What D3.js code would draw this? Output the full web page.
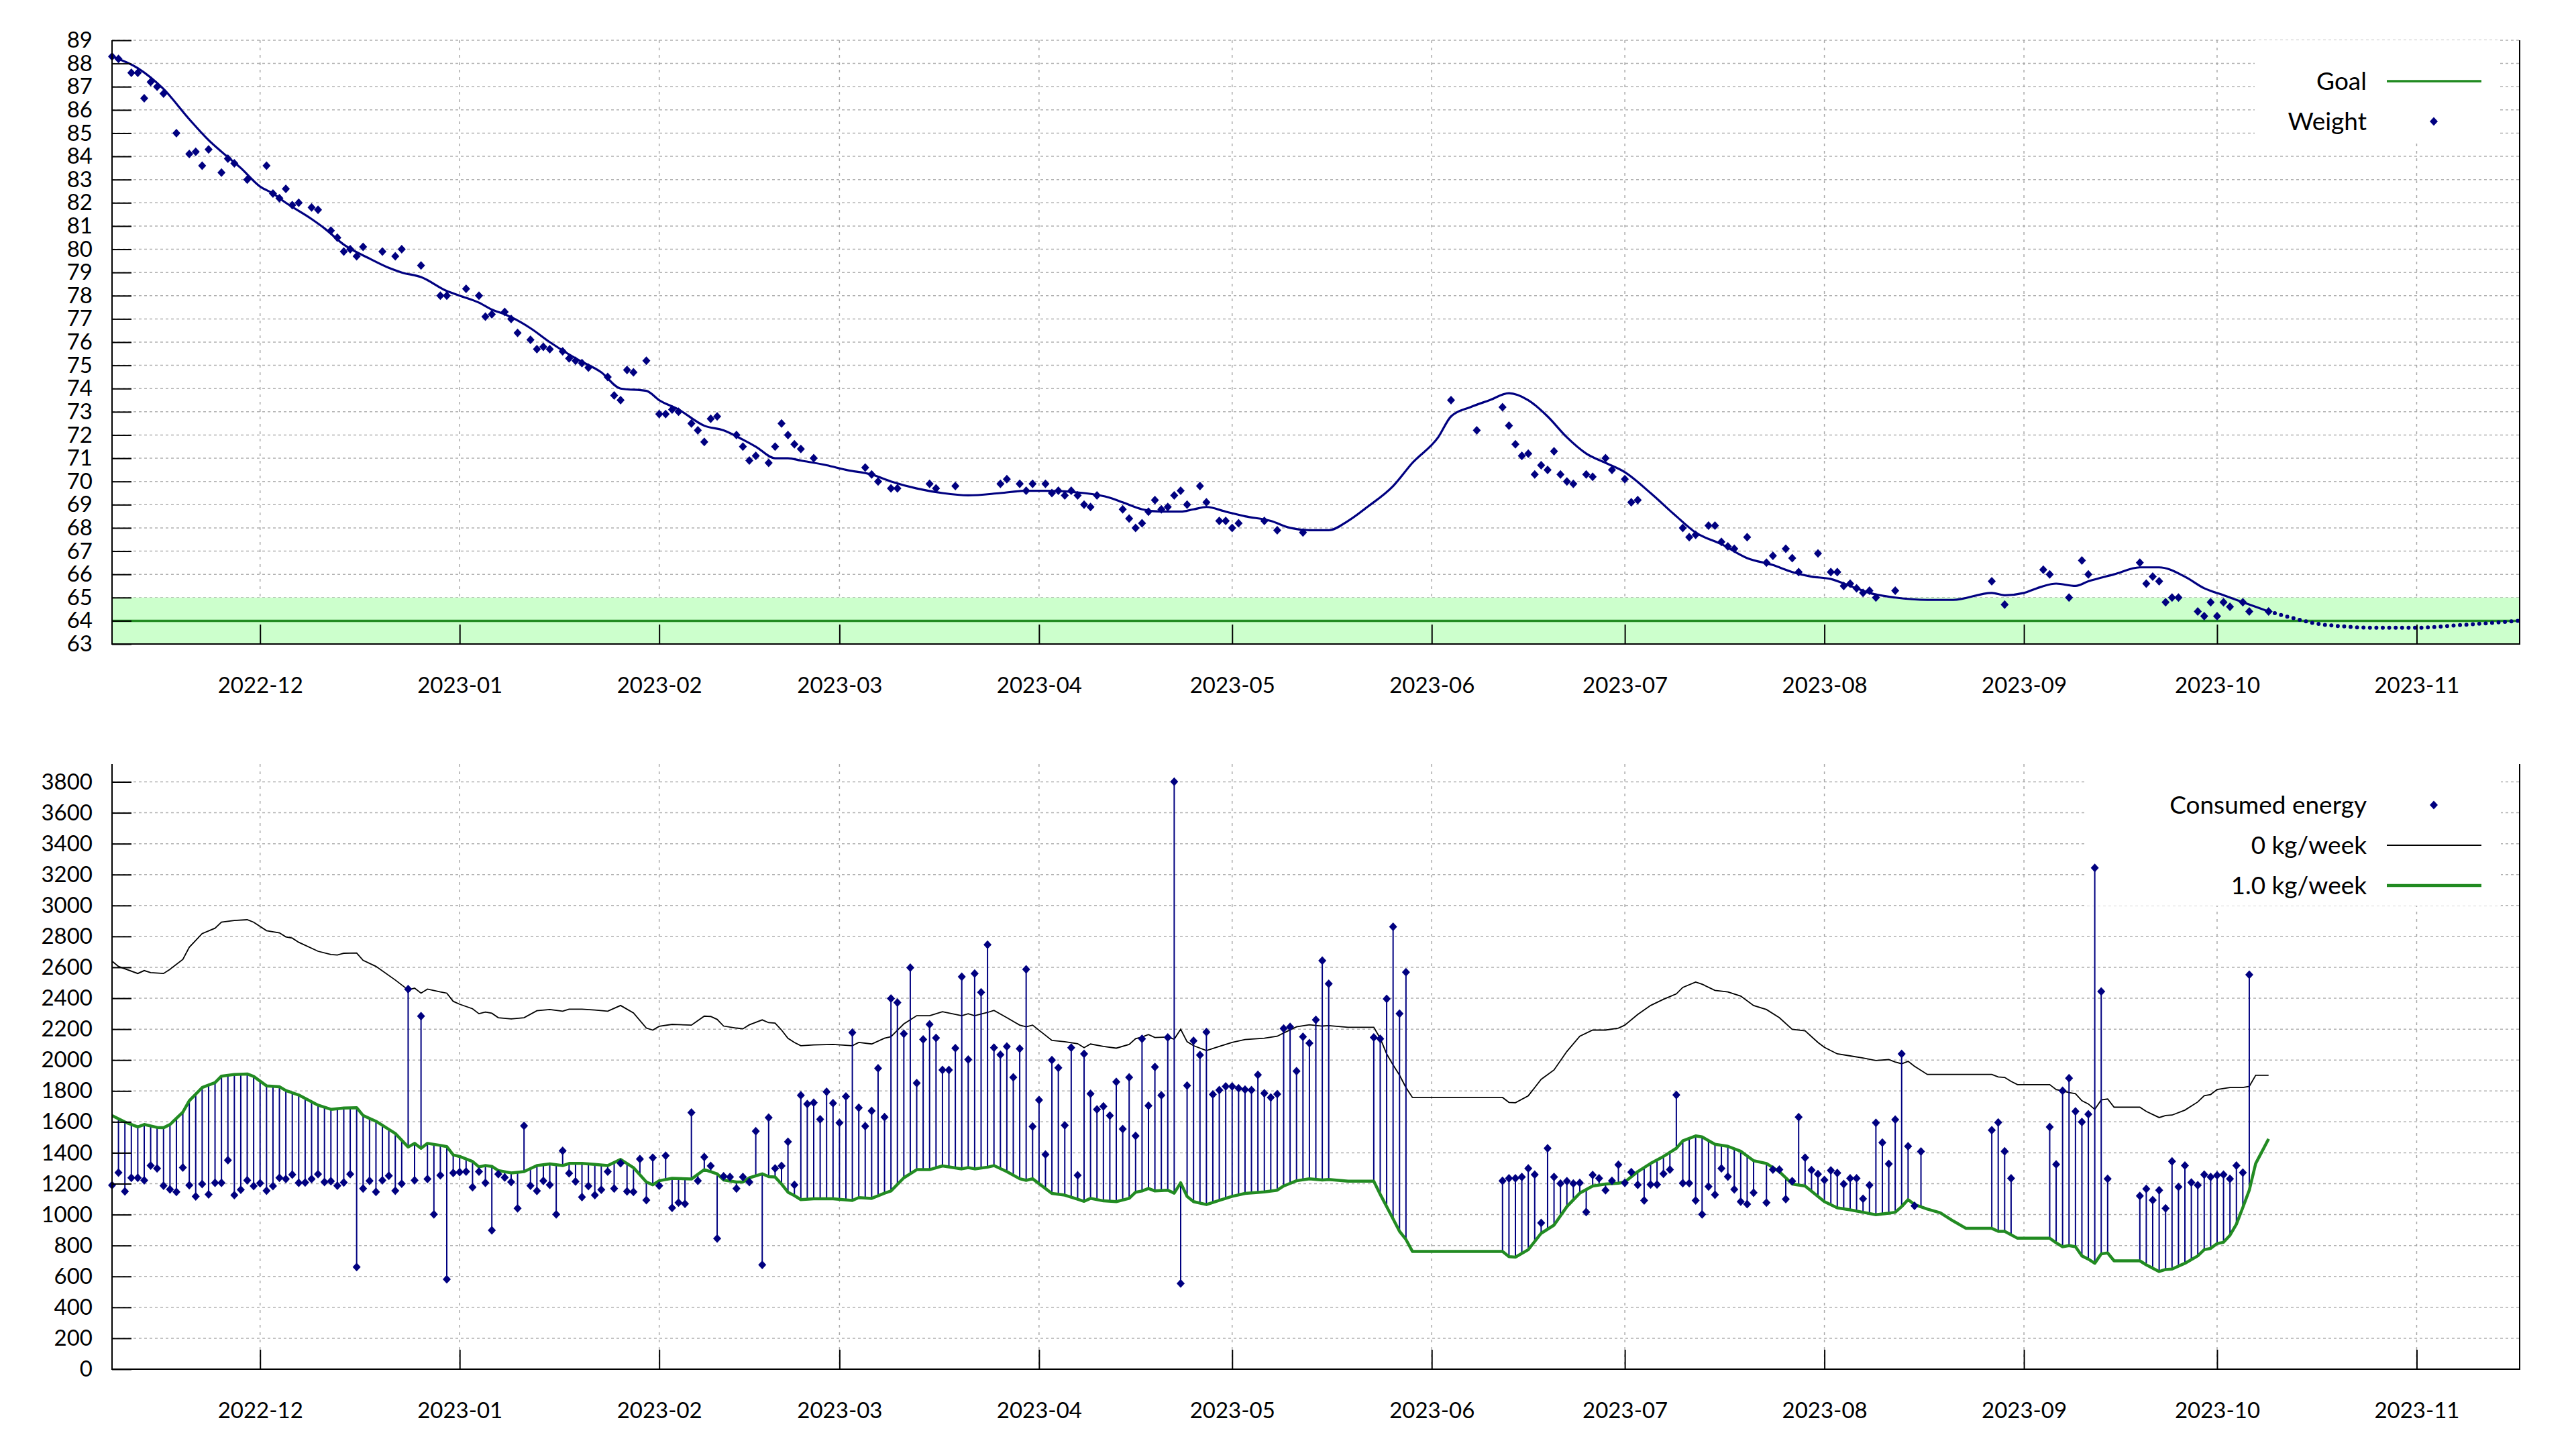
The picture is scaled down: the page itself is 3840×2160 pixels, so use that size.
<!DOCTYPE html>
<html>
<head>
<meta charset="utf-8">
<script src="https://cdn.jsdelivr.net/npm/d3@7"></script>
<style>
  html, body { margin: 0; padding: 0; background: #fff; }
  svg { display: block; font-family: Lato, 'Open Sans', sans-serif; }
</style>
</head>
<body>
<svg id="chart" width="3840" height="2160"></svg>
<script>
// ---- data ----
const xStart = '2022-11-08';
const xEnd = '2023-11-17';
const monthTicks = ['2022-12-01', '2023-01-01', '2023-02-01', '2023-03-01', '2023-04-01', '2023-05-01',
  '2023-06-01', '2023-07-01', '2023-08-01', '2023-09-01', '2023-10-01', '2023-11-01'];
const weightTicks = d3.range(63, 90);
const energyTicks = d3.range(0, 3801, 200);

const goalWeight = 64;
const goalBand = [63, 65];

const weights = [
  ['2022-11-08', 88.3], ['2022-11-09', 88.2], ['2022-11-11', 87.6], ['2022-11-12', 87.6], ['2022-11-13', 86.5],
  ['2022-11-14', 87.2], ['2022-11-15', 87.0], ['2022-11-16', 86.7], ['2022-11-18', 85.0], ['2022-11-20', 84.1],
  ['2022-11-21', 84.2], ['2022-11-22', 83.6], ['2022-11-23', 84.3], ['2022-11-25', 83.3], ['2022-11-26', 83.9],
  ['2022-11-27', 83.7], ['2022-11-29', 83.0], ['2022-12-02', 83.6], ['2022-12-03', 82.4], ['2022-12-04', 82.2],
  ['2022-12-05', 82.6], ['2022-12-06', 81.9], ['2022-12-07', 82.0], ['2022-12-09', 81.8], ['2022-12-10', 81.7],
  ['2022-12-12', 80.8], ['2022-12-13', 80.5], ['2022-12-14', 79.9], ['2022-12-15', 80.0], ['2022-12-16', 79.7],
  ['2022-12-17', 80.1], ['2022-12-20', 79.9], ['2022-12-22', 79.7], ['2022-12-23', 80.0], ['2022-12-26', 79.3],
  ['2022-12-29', 78.0], ['2022-12-30', 78.0], ['2023-01-02', 78.3], ['2023-01-04', 78.0], ['2023-01-05', 77.1],
  ['2023-01-06', 77.2], ['2023-01-08', 77.3], ['2023-01-09', 77.0], ['2023-01-10', 76.4], ['2023-01-12', 76.1],
  ['2023-01-13', 75.7], ['2023-01-14', 75.8], ['2023-01-15', 75.7], ['2023-01-17', 75.6], ['2023-01-18', 75.3],
  ['2023-01-19', 75.2], ['2023-01-20', 75.1], ['2023-01-21', 74.9], ['2023-01-24', 74.5], ['2023-01-25', 73.7],
  ['2023-01-26', 73.5], ['2023-01-27', 74.8], ['2023-01-28', 74.7], ['2023-01-30', 75.2], ['2023-02-01', 72.9],
  ['2023-02-02', 72.9], ['2023-02-03', 73.1], ['2023-02-04', 73.0], ['2023-02-06', 72.5], ['2023-02-07', 72.2],
  ['2023-02-08', 71.7], ['2023-02-09', 72.7], ['2023-02-10', 72.8], ['2023-02-13', 72.0], ['2023-02-14', 71.5],
  ['2023-02-15', 70.9], ['2023-02-16', 71.1], ['2023-02-18', 70.8], ['2023-02-19', 71.5], ['2023-02-20', 72.5],
  ['2023-02-21', 72.0], ['2023-02-22', 71.6], ['2023-02-23', 71.4], ['2023-02-25', 71.0], ['2023-03-05', 70.6],
  ['2023-03-06', 70.3], ['2023-03-07', 70.0], ['2023-03-09', 69.7], ['2023-03-10', 69.7], ['2023-03-15', 69.9],
  ['2023-03-16', 69.7], ['2023-03-19', 69.8], ['2023-03-26', 69.9], ['2023-03-27', 70.1], ['2023-03-29', 69.9],
  ['2023-03-30', 69.6], ['2023-03-31', 69.9], ['2023-04-02', 69.9], ['2023-04-03', 69.5], ['2023-04-04', 69.6],
  ['2023-04-05', 69.4], ['2023-04-06', 69.6], ['2023-04-07', 69.4], ['2023-04-08', 69.0], ['2023-04-09', 68.9],
  ['2023-04-10', 69.4], ['2023-04-14', 68.8], ['2023-04-15', 68.4], ['2023-04-16', 68.0], ['2023-04-17', 68.2],
  ['2023-04-18', 68.7], ['2023-04-19', 69.2], ['2023-04-20', 68.8], ['2023-04-21', 68.9], ['2023-04-22', 69.4],
  ['2023-04-23', 69.6], ['2023-04-24', 69.0], ['2023-04-26', 69.8], ['2023-04-27', 69.1], ['2023-04-29', 68.3],
  ['2023-04-30', 68.3], ['2023-05-01', 68.0], ['2023-05-02', 68.2], ['2023-05-06', 68.3], ['2023-05-08', 67.9],
  ['2023-05-12', 67.8], ['2023-06-04', 73.5], ['2023-06-08', 72.2], ['2023-06-12', 73.2], ['2023-06-13', 72.4],
  ['2023-06-14', 71.6], ['2023-06-15', 71.1], ['2023-06-16', 71.2], ['2023-06-17', 70.3], ['2023-06-18', 70.7],
  ['2023-06-19', 70.5], ['2023-06-20', 71.3], ['2023-06-21', 70.3], ['2023-06-22', 70.0], ['2023-06-23', 69.9],
  ['2023-06-25', 70.3], ['2023-06-26', 70.2], ['2023-06-28', 71.0], ['2023-06-29', 70.5], ['2023-07-01', 70.1],
  ['2023-07-02', 69.1], ['2023-07-03', 69.2], ['2023-07-10', 68.0], ['2023-07-11', 67.6], ['2023-07-12', 67.7],
  ['2023-07-14', 68.1], ['2023-07-15', 68.1], ['2023-07-16', 67.4], ['2023-07-17', 67.2], ['2023-07-18', 67.1],
  ['2023-07-20', 67.6], ['2023-07-23', 66.5], ['2023-07-24', 66.8], ['2023-07-26', 67.1], ['2023-07-27', 66.7],
  ['2023-07-28', 66.1], ['2023-07-31', 66.9], ['2023-08-02', 66.1], ['2023-08-03', 66.1], ['2023-08-04', 65.5],
  ['2023-08-05', 65.6], ['2023-08-06', 65.4], ['2023-08-07', 65.2], ['2023-08-08', 65.3], ['2023-08-09', 65.0],
  ['2023-08-12', 65.3], ['2023-08-27', 65.7], ['2023-08-29', 64.7], ['2023-09-04', 66.2], ['2023-09-05', 66.0],
  ['2023-09-08', 65.0], ['2023-09-10', 66.6], ['2023-09-11', 66.0], ['2023-09-19', 66.5], ['2023-09-20', 65.6],
  ['2023-09-21', 65.9], ['2023-09-22', 65.7], ['2023-09-23', 64.8], ['2023-09-24', 65.0], ['2023-09-25', 65.0],
  ['2023-09-28', 64.4], ['2023-09-29', 64.2], ['2023-09-30', 64.8], ['2023-10-01', 64.2], ['2023-10-02', 64.8],
  ['2023-10-03', 64.6], ['2023-10-05', 64.8], ['2023-10-06', 64.4], ['2023-10-09', 64.4]
];

const weightTrend = [
  ['2022-11-08', 88.3], ['2022-11-12', 87.8], ['2022-11-16', 86.9], ['2022-11-20', 85.6], ['2022-11-23', 84.7],
  ['2022-11-25', 84.2], ['2022-11-28', 83.5], ['2022-12-01', 82.7], ['2022-12-03', 82.4], ['2022-12-05', 82.0],
  ['2022-12-09', 81.3], ['2022-12-11', 80.9], ['2022-12-14', 80.2], ['2022-12-18', 79.6], ['2022-12-21', 79.2],
  ['2022-12-23', 79.0], ['2022-12-26', 78.8], ['2022-12-30', 78.2], ['2023-01-01', 78.0], ['2023-01-04', 77.7],
  ['2023-01-06', 77.4], ['2023-01-08', 77.2], ['2023-01-12', 76.6], ['2023-01-15', 76.0], ['2023-01-19', 75.3],
  ['2023-01-23', 74.7], ['2023-01-26', 74.0], ['2023-01-30', 73.9], ['2023-02-01', 73.5], ['2023-02-04', 73.1],
  ['2023-02-08', 72.4], ['2023-02-11', 72.2], ['2023-02-14', 71.8], ['2023-02-16', 71.5], ['2023-02-19', 71.0],
  ['2023-02-21', 71.0], ['2023-02-23', 70.9], ['2023-02-27', 70.7], ['2023-03-02', 70.5], ['2023-03-06', 70.3],
  ['2023-03-09', 70.0], ['2023-03-13', 69.7], ['2023-03-17', 69.5], ['2023-03-21', 69.4], ['2023-03-26', 69.5],
  ['2023-03-30', 69.6], ['2023-04-02', 69.6], ['2023-04-08', 69.5], ['2023-04-12', 69.3], ['2023-04-14', 69.1],
  ['2023-04-17', 68.8], ['2023-04-20', 68.7], ['2023-04-23', 68.7], ['2023-04-25', 68.8], ['2023-04-27', 68.9],
  ['2023-04-30', 68.7], ['2023-05-03', 68.5], ['2023-05-07', 68.3], ['2023-05-10', 68.0], ['2023-05-13', 67.9],
  ['2023-05-16', 67.9], ['2023-05-19', 68.3], ['2023-05-22', 68.9], ['2023-05-26', 69.8], ['2023-05-29', 70.8],
  ['2023-06-02', 71.9], ['2023-06-04', 72.8], ['2023-06-07', 73.2], ['2023-06-10', 73.5], ['2023-06-13', 73.8],
  ['2023-06-16', 73.5], ['2023-06-19', 72.8], ['2023-06-22', 71.9], ['2023-06-25', 71.2], ['2023-06-28', 70.8],
  ['2023-07-01', 70.4], ['2023-07-05', 69.5], ['2023-07-09', 68.5], ['2023-07-12', 67.8], ['2023-07-16', 67.3],
  ['2023-07-20', 66.7], ['2023-07-24', 66.4], ['2023-07-27', 66.1], ['2023-07-30', 65.9], ['2023-08-02', 65.8],
  ['2023-08-05', 65.5], ['2023-08-08', 65.2], ['2023-08-12', 65.0], ['2023-08-17', 64.9], ['2023-08-21', 64.9],
  ['2023-08-27', 65.2], ['2023-08-29', 65.1], ['2023-09-01', 65.2], ['2023-09-03', 65.4], ['2023-09-06', 65.6],
  ['2023-09-09', 65.5], ['2023-09-11', 65.7], ['2023-09-15', 66.0], ['2023-09-19', 66.3], ['2023-09-22', 66.3],
  ['2023-09-26', 65.9], ['2023-09-29', 65.4], ['2023-10-02', 65.1], ['2023-10-05', 64.8], ['2023-10-09', 64.4]
];

const weightForecast = [
  ['2023-10-09', 64.4], ['2023-10-13', 64.1], ['2023-10-16', 63.9], ['2023-10-21', 63.75], ['2023-10-25', 63.7],
  ['2023-11-01', 63.7], ['2023-11-07', 63.8], ['2023-11-17', 64.0]
];

const energy = [
  ['2022-11-08', 1190], ['2022-11-09', 1272], ['2022-11-10', 1150], ['2022-11-11', 1238], ['2022-11-12', 1238],
  ['2022-11-13', 1222], ['2022-11-14', 1317], ['2022-11-15', 1299], ['2022-11-16', 1187], ['2022-11-17', 1163],
  ['2022-11-18', 1147], ['2022-11-19', 1304], ['2022-11-20', 1190], ['2022-11-21', 1118], ['2022-11-22', 1198],
  ['2022-11-23', 1131], ['2022-11-24', 1206], ['2022-11-25', 1206], ['2022-11-26', 1352], ['2022-11-27', 1126],
  ['2022-11-28', 1161], ['2022-11-29', 1222], ['2022-11-30', 1185],
  ['2022-12-01', 1203], ['2022-12-02', 1155], ['2022-12-03', 1185], ['2022-12-04', 1238], ['2022-12-05', 1230],
  ['2022-12-06', 1259], ['2022-12-07', 1206], ['2022-12-08', 1208], ['2022-12-09', 1230], ['2022-12-10', 1262],
  ['2022-12-11', 1211], ['2022-12-12', 1216], ['2022-12-13', 1187], ['2022-12-14', 1208], ['2022-12-15', 1262],
  ['2022-12-16', 661], ['2022-12-17', 1169], ['2022-12-18', 1219], ['2022-12-19', 1147], ['2022-12-20', 1222],
  ['2022-12-21', 1251], ['2022-12-22', 1155], ['2022-12-23', 1200], ['2022-12-24', 2459], ['2022-12-25', 1222],
  ['2022-12-26', 2284], ['2022-12-27', 1230], ['2022-12-28', 1001], ['2022-12-29', 1254], ['2022-12-30', 582],
  ['2022-12-31', 1270],
  ['2023-01-01', 1275], ['2023-01-02', 1278], ['2023-01-03', 1177], ['2023-01-04', 1278], ['2023-01-05', 1206],
  ['2023-01-06', 898], ['2023-01-07', 1262], ['2023-01-08', 1240], ['2023-01-09', 1211], ['2023-01-10', 1041],
  ['2023-01-11', 1575], ['2023-01-12', 1187], ['2023-01-13', 1153], ['2023-01-14', 1219], ['2023-01-15', 1193],
  ['2023-01-16', 1001], ['2023-01-17', 1413], ['2023-01-18', 1267], ['2023-01-19', 1214], ['2023-01-20', 1113],
  ['2023-01-21', 1185], ['2023-01-22', 1126], ['2023-01-23', 1161], ['2023-01-24', 1278], ['2023-01-25', 1169],
  ['2023-01-26', 1333], ['2023-01-27', 1150], ['2023-01-28', 1147], ['2023-01-29', 1360], ['2023-01-30', 1094],
  ['2023-01-31', 1368],
  ['2023-02-01', 1187], ['2023-02-02', 1381], ['2023-02-03', 1044], ['2023-02-04', 1078], ['2023-02-05', 1070],
  ['2023-02-06', 1660], ['2023-02-07', 1219], ['2023-02-08', 1373], ['2023-02-09', 1315], ['2023-02-10', 845],
  ['2023-02-11', 1248], ['2023-02-12', 1243], ['2023-02-13', 1169], ['2023-02-14', 1243], ['2023-02-15', 1211],
  ['2023-02-16', 1540], ['2023-02-17', 675], ['2023-02-18', 1628], ['2023-02-19', 1299], ['2023-02-20', 1315],
  ['2023-02-21', 1471], ['2023-02-22', 1193], ['2023-02-23', 1772], ['2023-02-24', 1716], ['2023-02-25', 1724],
  ['2023-02-26', 1617], ['2023-02-27', 1795], ['2023-02-28', 1721],
  ['2023-03-01', 1594], ['2023-03-02', 1764], ['2023-03-03', 2178], ['2023-03-04', 1692], ['2023-03-05', 1572],
  ['2023-03-06', 1671], ['2023-03-07', 1947], ['2023-03-08', 1631], ['2023-03-09', 2398], ['2023-03-10', 2372],
  ['2023-03-11', 2170], ['2023-03-12', 2598], ['2023-03-13', 1851], ['2023-03-14', 2133], ['2023-03-15', 2231],
  ['2023-03-16', 2143], ['2023-03-17', 1936], ['2023-03-18', 1936], ['2023-03-19', 2077], ['2023-03-20', 2539],
  ['2023-03-21', 2003], ['2023-03-22', 2560], ['2023-03-23', 2438], ['2023-03-24', 2746], ['2023-03-25', 2080],
  ['2023-03-26', 2035], ['2023-03-27', 2088], ['2023-03-28', 1888], ['2023-03-29', 2074], ['2023-03-30', 2587],
  ['2023-03-31', 1570],
  ['2023-04-01', 1742], ['2023-04-02', 1389], ['2023-04-03', 2000], ['2023-04-04', 1950], ['2023-04-05', 1578],
  ['2023-04-06', 2080], ['2023-04-07', 1254], ['2023-04-08', 2040], ['2023-04-09', 1782], ['2023-04-10', 1681],
  ['2023-04-11', 1700], ['2023-04-12', 1641], ['2023-04-13', 1859], ['2023-04-14', 1554], ['2023-04-15', 1888],
  ['2023-04-16', 1509], ['2023-04-17', 2138], ['2023-04-18', 1705], ['2023-04-19', 1955], ['2023-04-20', 1772],
  ['2023-04-21', 2146], ['2023-04-22', 3801], ['2023-04-23', 555], ['2023-04-24', 1835], ['2023-04-25', 2125],
  ['2023-04-26', 2032], ['2023-04-27', 2181], ['2023-04-28', 1777], ['2023-04-29', 1806], ['2023-04-30', 1830],
  ['2023-05-01', 1830], ['2023-05-02', 1817], ['2023-05-03', 1809], ['2023-05-04', 1806], ['2023-05-05', 1904],
  ['2023-05-06', 1785], ['2023-05-07', 1758], ['2023-05-08', 1780], ['2023-05-09', 2204], ['2023-05-10', 2215],
  ['2023-05-11', 1928], ['2023-05-12', 2151], ['2023-05-13', 2109], ['2023-05-14', 2260], ['2023-05-15', 2643],
  ['2023-05-16', 2494],
  ['2023-05-23', 2146], ['2023-05-24', 2138], ['2023-05-25', 2396], ['2023-05-26', 2863], ['2023-05-27', 2300],
  ['2023-05-28', 2568],
  ['2023-06-12', 1219], ['2023-06-13', 1235], ['2023-06-14', 1235], ['2023-06-15', 1243], ['2023-06-16', 1299],
  ['2023-06-17', 1259], ['2023-06-18', 946], ['2023-06-19', 1429], ['2023-06-20', 1243], ['2023-06-21', 1201],
  ['2023-06-22', 1216], ['2023-06-23', 1201], ['2023-06-24', 1206], ['2023-06-25', 1017], ['2023-06-26', 1256],
  ['2023-06-27', 1235], ['2023-06-28', 1158], ['2023-06-29', 1219], ['2023-06-30', 1323],
  ['2023-07-01', 1206], ['2023-07-02', 1275], ['2023-07-03', 1193], ['2023-07-04', 1092], ['2023-07-05', 1195],
  ['2023-07-06', 1195], ['2023-07-07', 1264], ['2023-07-08', 1291], ['2023-07-09', 1774], ['2023-07-10', 1203],
  ['2023-07-11', 1203], ['2023-07-12', 1092], ['2023-07-13', 1001], ['2023-07-14', 1182], ['2023-07-15', 1129],
  ['2023-07-16', 1299], ['2023-07-17', 1246], ['2023-07-18', 1163], ['2023-07-19', 1084], ['2023-07-20', 1068],
  ['2023-07-21', 1142], ['2023-07-23', 1078], ['2023-07-24', 1291], ['2023-07-25', 1291], ['2023-07-26', 1100],
  ['2023-07-27', 1216], ['2023-07-28', 1631], ['2023-07-29', 1368], ['2023-07-30', 1288], ['2023-07-31', 1262],
  ['2023-08-01', 1224], ['2023-08-02', 1286], ['2023-08-03', 1270], ['2023-08-04', 1198], ['2023-08-05', 1235],
  ['2023-08-06', 1235], ['2023-08-07', 1102], ['2023-08-08', 1190], ['2023-08-09', 1594], ['2023-08-10', 1466],
  ['2023-08-11', 1328], ['2023-08-12', 1615], ['2023-08-13', 2040], ['2023-08-14', 1442], ['2023-08-15', 1057],
  ['2023-08-16', 1408],
  ['2023-08-27', 1546], ['2023-08-28', 1596], ['2023-08-29', 1410], ['2023-08-30', 1235],
  ['2023-09-05', 1567], ['2023-09-06', 1325], ['2023-09-07', 1801], ['2023-09-08', 1883], ['2023-09-09', 1668],
  ['2023-09-10', 1599], ['2023-09-11', 1649], ['2023-09-12', 3243], ['2023-09-13', 2444], ['2023-09-14', 1232],
  ['2023-09-19', 1121], ['2023-09-20', 1166], ['2023-09-21', 1094], ['2023-09-22', 1158], ['2023-09-23', 1041],
  ['2023-09-24', 1344], ['2023-09-25', 1179], ['2023-09-26', 1317], ['2023-09-27', 1208], ['2023-09-28', 1190],
  ['2023-09-29', 1259], ['2023-09-30', 1243], ['2023-10-01', 1254], ['2023-10-02', 1259], ['2023-10-03', 1232],
  ['2023-10-04', 1317], ['2023-10-05', 1272], ['2023-10-06', 2552]
];

// energy needed to keep the weight (0 kg/week)
const maintenance = [
  ['2022-11-08', 2640], ['2022-11-09', 2606], ['2022-11-12', 2560], ['2022-11-13', 2579], ['2022-11-14', 2566],
  ['2022-11-16', 2560], ['2022-11-17', 2587], ['2022-11-19', 2651], ['2022-11-20', 2730], ['2022-11-22', 2818],
  ['2022-11-24', 2853], ['2022-11-25', 2892], ['2022-11-27', 2903], ['2022-11-29', 2908], ['2022-11-30', 2892],
  ['2022-12-02', 2837], ['2022-12-04', 2823], ['2022-12-05', 2797], ['2022-12-06', 2789], ['2022-12-07', 2762],
  ['2022-12-10', 2704], ['2022-12-12', 2683], ['2022-12-13', 2680], ['2022-12-14', 2691], ['2022-12-16', 2693],
  ['2022-12-17', 2645], ['2022-12-19', 2606], ['2022-12-22', 2518], ['2022-12-24', 2454], ['2022-12-25', 2465],
  ['2022-12-26', 2433], ['2022-12-27', 2459], ['2022-12-29', 2441], ['2022-12-30', 2433], ['2022-12-31', 2380],
  ['2023-01-01', 2361], ['2023-01-03', 2332], ['2023-01-04', 2300], ['2023-01-05', 2311], ['2023-01-06', 2303],
  ['2023-01-07', 2274], ['2023-01-09', 2266], ['2023-01-11', 2274], ['2023-01-13', 2319], ['2023-01-15', 2327],
  ['2023-01-17', 2316], ['2023-01-18', 2329], ['2023-01-20', 2329], ['2023-01-22', 2324], ['2023-01-24', 2316],
  ['2023-01-26', 2353], ['2023-01-28', 2305], ['2023-01-30', 2207], ['2023-01-31', 2194], ['2023-02-01', 2218],
  ['2023-02-03', 2231], ['2023-02-06', 2226], ['2023-02-08', 2284], ['2023-02-09', 2282], ['2023-02-10', 2263],
  ['2023-02-11', 2220], ['2023-02-13', 2207], ['2023-02-14', 2202], ['2023-02-15', 2228], ['2023-02-17', 2260],
  ['2023-02-18', 2242], ['2023-02-19', 2239], ['2023-02-20', 2194], ['2023-02-21', 2141], ['2023-02-22', 2114],
  ['2023-02-23', 2093], ['2023-02-25', 2098], ['2023-02-28', 2101], ['2023-03-03', 2093], ['2023-03-04', 2114],
  ['2023-03-06', 2104], ['2023-03-08', 2141], ['2023-03-09', 2151], ['2023-03-11', 2234], ['2023-03-13', 2287],
  ['2023-03-15', 2287], ['2023-03-17', 2313], ['2023-03-20', 2287], ['2023-03-21', 2300], ['2023-03-22', 2287],
  ['2023-03-24', 2308], ['2023-03-25', 2321], ['2023-03-27', 2274], ['2023-03-29', 2226], ['2023-03-30', 2215],
  ['2023-03-31', 2226], ['2023-04-03', 2127], ['2023-04-05', 2119], ['2023-04-07', 2106], ['2023-04-08', 2080],
  ['2023-04-09', 2104], ['2023-04-11', 2088], ['2023-04-13', 2077], ['2023-04-15', 2101], ['2023-04-16', 2138],
  ['2023-04-17', 2149], ['2023-04-18', 2165], ['2023-04-19', 2146], ['2023-04-21', 2149], ['2023-04-22', 2135],
  ['2023-04-23', 2199], ['2023-04-24', 2119], ['2023-04-25', 2093], ['2023-04-27', 2061], ['2023-04-29', 2088],
  ['2023-05-01', 2114], ['2023-05-03', 2133], ['2023-05-06', 2141], ['2023-05-08', 2154], ['2023-05-09', 2175],
  ['2023-05-11', 2215], ['2023-05-13', 2228], ['2023-05-15', 2220], ['2023-05-16', 2223], ['2023-05-19', 2212],
  ['2023-05-23', 2212], ['2023-05-24', 2141], ['2023-05-25', 2040], ['2023-05-26', 1968], ['2023-05-27', 1902],
  ['2023-05-28', 1822], ['2023-05-29', 1758], ['2023-06-12', 1758], ['2023-06-13', 1726], ['2023-06-14', 1724],
  ['2023-06-16', 1769], ['2023-06-17', 1822], ['2023-06-18', 1875], ['2023-06-20', 1936], ['2023-06-22', 2056],
  ['2023-06-24', 2154], ['2023-06-26', 2194], ['2023-06-28', 2194], ['2023-06-30', 2207], ['2023-07-01', 2226],
  ['2023-07-03', 2295], ['2023-07-05', 2353], ['2023-07-07', 2393], ['2023-07-09', 2428], ['2023-07-10', 2470],
  ['2023-07-12', 2505], ['2023-07-13', 2491], ['2023-07-15', 2451], ['2023-07-17', 2441], ['2023-07-19', 2414],
  ['2023-07-21', 2353], ['2023-07-23', 2327], ['2023-07-25', 2274], ['2023-07-27', 2199], ['2023-07-29', 2189],
  ['2023-07-31', 2114], ['2023-08-01', 2082], ['2023-08-03', 2040], ['2023-08-05', 2027], ['2023-08-07', 2013],
  ['2023-08-09', 1997], ['2023-08-11', 2003], ['2023-08-12', 1987], ['2023-08-13', 1976], ['2023-08-14', 1992],
  ['2023-08-15', 1960], ['2023-08-17', 1907], ['2023-08-27', 1907], ['2023-08-28', 1891], ['2023-08-29', 1888],
  ['2023-08-30', 1862], ['2023-08-31', 1841], ['2023-09-05', 1841], ['2023-09-06', 1809], ['2023-09-08', 1790],
  ['2023-09-09', 1782], ['2023-09-10', 1737], ['2023-09-11', 1716], ['2023-09-12', 1681], ['2023-09-13', 1742],
  ['2023-09-14', 1748], ['2023-09-15', 1695], ['2023-09-19', 1695], ['2023-09-20', 1668], ['2023-09-22', 1628],
  ['2023-09-23', 1641], ['2023-09-24', 1644], ['2023-09-26', 1676], ['2023-09-28', 1729], ['2023-09-29', 1769],
  ['2023-09-30', 1777], ['2023-10-01', 1809], ['2023-10-03', 1822], ['2023-10-05', 1822], ['2023-10-06', 1830],
  ['2023-10-07', 1902], ['2023-10-09', 1902]
];

// energy for losing 1.0 kg/week
const lossTarget = [
  ['2022-11-08', 1641], ['2022-11-10', 1599], ['2022-11-12', 1567], ['2022-11-13', 1583], ['2022-11-15', 1564],
  ['2022-11-16', 1562], ['2022-11-17', 1583], ['2022-11-19', 1663], ['2022-11-20', 1737], ['2022-11-22', 1822],
  ['2022-11-24', 1854], ['2022-11-25', 1896], ['2022-11-27', 1907], ['2022-11-29', 1910], ['2022-11-30', 1894],
  ['2022-12-02', 1833], ['2022-12-04', 1827], ['2022-12-05', 1803], ['2022-12-07', 1774], ['2022-12-10', 1708],
  ['2022-12-12', 1681], ['2022-12-14', 1689], ['2022-12-16', 1692], ['2022-12-17', 1641], ['2022-12-19', 1604],
  ['2022-12-22', 1525], ['2022-12-24', 1437], ['2022-12-25', 1461], ['2022-12-26', 1429], ['2022-12-27', 1461],
  ['2022-12-29', 1448], ['2022-12-30', 1440], ['2022-12-31', 1386], ['2023-01-01', 1376], ['2023-01-03', 1344],
  ['2023-01-04', 1309], ['2023-01-05', 1317], ['2023-01-06', 1312], ['2023-01-07', 1285], ['2023-01-09', 1270],
  ['2023-01-11', 1278], ['2023-01-13', 1317], ['2023-01-15', 1328], ['2023-01-17', 1317], ['2023-01-18', 1331],
  ['2023-01-20', 1331], ['2023-01-22', 1325], ['2023-01-24', 1317], ['2023-01-26', 1357], ['2023-01-28', 1304],
  ['2023-01-30', 1211], ['2023-01-31', 1193], ['2023-02-01', 1219], ['2023-02-03', 1235], ['2023-02-06', 1230],
  ['2023-02-08', 1291], ['2023-02-09', 1278], ['2023-02-10', 1264], ['2023-02-11', 1224], ['2023-02-13', 1211],
  ['2023-02-14', 1211], ['2023-02-15', 1238], ['2023-02-17', 1264], ['2023-02-18', 1246], ['2023-02-19', 1243],
  ['2023-02-20', 1198], ['2023-02-21', 1145], ['2023-02-22', 1123], ['2023-02-23', 1097], ['2023-02-25', 1102],
  ['2023-02-28', 1102], ['2023-03-03', 1092], ['2023-03-04', 1110], ['2023-03-06', 1105], ['2023-03-08', 1139],
  ['2023-03-09', 1153], ['2023-03-11', 1238], ['2023-03-13', 1291], ['2023-03-15', 1291], ['2023-03-17', 1315],
  ['2023-03-20', 1296], ['2023-03-21', 1304], ['2023-03-22', 1296], ['2023-03-24', 1307], ['2023-03-25', 1317],
  ['2023-03-27', 1278], ['2023-03-29', 1232], ['2023-03-30', 1222], ['2023-03-31', 1232], ['2023-04-03', 1137],
  ['2023-04-05', 1126], ['2023-04-07', 1100], ['2023-04-08', 1086], ['2023-04-09', 1105], ['2023-04-11', 1089],
  ['2023-04-13', 1084], ['2023-04-15', 1105], ['2023-04-16', 1145], ['2023-04-17', 1153], ['2023-04-18', 1169],
  ['2023-04-19', 1153], ['2023-04-21', 1158], ['2023-04-22', 1139], ['2023-04-23', 1206], ['2023-04-24', 1118],
  ['2023-04-25', 1084], ['2023-04-27', 1065], ['2023-04-29', 1092], ['2023-05-01', 1118], ['2023-05-03', 1137],
  ['2023-05-06', 1147], ['2023-05-08', 1158], ['2023-05-09', 1185], ['2023-05-11', 1219], ['2023-05-13', 1232],
  ['2023-05-15', 1224], ['2023-05-16', 1227], ['2023-05-19', 1216], ['2023-05-23', 1216], ['2023-05-24', 1131],
  ['2023-05-25', 1052], ['2023-05-26', 972], ['2023-05-27', 892], ['2023-05-28', 839], ['2023-05-29', 762],
  ['2023-06-12', 762], ['2023-06-13', 728], ['2023-06-14', 725], ['2023-06-16', 773], ['2023-06-17', 826],
  ['2023-06-18', 879], ['2023-06-20', 932], ['2023-06-22', 1052], ['2023-06-24', 1139], ['2023-06-26', 1185],
  ['2023-06-28', 1198], ['2023-06-30', 1203], ['2023-07-01', 1211], ['2023-07-03', 1278], ['2023-07-05', 1331],
  ['2023-07-07', 1376], ['2023-07-09', 1429], ['2023-07-10', 1477], ['2023-07-12', 1509], ['2023-07-13', 1503],
  ['2023-07-15', 1455], ['2023-07-17', 1442], ['2023-07-19', 1410], ['2023-07-21', 1349], ['2023-07-23', 1331],
  ['2023-07-25', 1278], ['2023-07-27', 1198], ['2023-07-29', 1185], ['2023-07-31', 1118], ['2023-08-01', 1084],
  ['2023-08-03', 1044], ['2023-08-05', 1031], ['2023-08-07', 1015], ['2023-08-09', 999], ['2023-08-11', 1009],
  ['2023-08-12', 1015], ['2023-08-13', 1052], ['2023-08-14', 1097], ['2023-08-15', 1065], ['2023-08-17', 1036],
  ['2023-08-19', 1012], ['2023-08-21', 959], ['2023-08-23', 911], ['2023-08-27', 911], ['2023-08-28', 892],
  ['2023-08-29', 892], ['2023-08-31', 847], ['2023-09-05', 847], ['2023-09-06', 818], ['2023-09-07', 792],
  ['2023-09-08', 800], ['2023-09-09', 792], ['2023-09-10', 733], ['2023-09-11', 712], ['2023-09-12', 685],
  ['2023-09-13', 746], ['2023-09-14', 752], ['2023-09-15', 701], ['2023-09-19', 701], ['2023-09-20', 675],
  ['2023-09-22', 632], ['2023-09-23', 645], ['2023-09-24', 648], ['2023-09-26', 685], ['2023-09-28', 733],
  ['2023-09-29', 773], ['2023-09-30', 781], ['2023-10-01', 813], ['2023-10-02', 821], ['2023-10-03', 866],
  ['2023-10-04', 938], ['2023-10-05', 1046], ['2023-10-06', 1158], ['2023-10-07', 1331], ['2023-10-08', 1410],
  ['2023-10-09', 1490]
];

const weightLegend = ['Goal', 'Weight'];
const energyLegend = ['Consumed energy', '0 kg/week', '1.0 kg/week'];

// ---- drawing ----
const navy = '#000080';
const green = '#228b22';
const parse = d3.utcParse('%Y-%m-%d');
const diamond = 'M0,-6.5L6,0L0,6.5L-6,0Z';

const svg = d3.select('#chart');
svg.append('rect').attr('width', 3840).attr('height', 2160).attr('fill', '#fff');

const x = d3.scaleUtc().domain([parse(xStart), parse(xEnd)]).range([167, 3756]);
const left = x.range()[0];
const right = x.range()[1];

function frame(y, ticks, legendBox) {
  const [bottom, top] = y.range();
  const g = svg.append('g');

  // dotted grid
  g.append('g').attr('stroke', '#b0b0b0').attr('stroke-width', 1.5).attr('stroke-dasharray', '4 4')
    .selectAll('line').data(ticks).enter().append('line')
    .attr('x1', left).attr('x2', right)
    .attr('y1', d => y(d)).attr('y2', d => y(d));
  g.append('g').attr('stroke', '#a8a8a8').attr('stroke-width', 1.5).attr('stroke-dasharray', '4 7')
    .selectAll('line').data(monthTicks).enter().append('line')
    .attr('x1', d => x(parse(d))).attr('x2', d => x(parse(d)))
    .attr('y1', top).attr('y2', bottom);

  g.append('rect')
    .attr('x', legendBox[0]).attr('y', top)
    .attr('width', legendBox[1] - legendBox[0]).attr('height', legendBox[2] - top)
    .attr('fill', '#fff');
  return g;
}

function axes(y, ticks) {
  const [bottom, top] = y.range();
  const yAxis = d3.axisLeft(y).tickValues(ticks).tickFormat(d3.format('d')).tickSize(-29).tickPadding(29);
  const xAxis = d3.axisBottom(x).tickValues(monthTicks.map(parse))
    .tickFormat(d3.utcFormat('%Y-%m')).tickSize(-29).tickPadding(50);

  const ga = svg.append('g').attr('transform', `translate(${left},0)`).call(yAxis);
  const gb = svg.append('g').attr('transform', `translate(0,${bottom})`).call(xAxis);
  [ga, gb].forEach(s => {
    s.select('.domain').remove();
    s.selectAll('line').attr('stroke', '#000').attr('stroke-width', 2);
    s.selectAll('text').attr('fill', '#000').style('font-size', '33px').style('font-family', 'Lato, sans-serif');
  });

  svg.append('path')
    .attr('d', `M${left},${top}V${bottom}H${right}V${top}`)
    .attr('fill', 'none').attr('stroke', '#000').attr('stroke-width', 2);
}

function legend(rows, top) {
  const g = svg.append('g').style('font-size', '37px').style('font-family', 'Lato, sans-serif');
  rows.forEach((r, i) => {
    const yy = top + 61 + i * 60;
    g.append('text').attr('x', 3528).attr('y', yy).attr('dy', '0.35em')
      .attr('text-anchor', 'end').attr('fill', '#000').text(r.label);
    if (r.kind === 'point') {
      g.append('path').attr('d', diamond).attr('transform', `translate(3628,${yy})`).attr('fill', navy);
    } else {
      g.append('line').attr('x1', 3558).attr('x2', 3699).attr('y1', yy).attr('y2', yy)
        .attr('stroke', r.color).attr('stroke-width', r.width);
    }
  });
}

// ---------- weight chart ----------
const yW = d3.scaleLinear().domain([63, 89]).range([960, 60]);
frame(yW, weightTicks, [3361, 3725, 210]);

svg.append('rect')
  .attr('x', left).attr('width', right - left)
  .attr('y', yW(goalBand[1])).attr('height', yW(goalBand[0]) - yW(goalBand[1]))
  .attr('fill', '#ccffcc');
svg.append('line')
  .attr('x1', left).attr('x2', right)
  .attr('y1', yW(goalWeight)).attr('y2', yW(goalWeight))
  .attr('stroke', green).attr('stroke-width', 3.5);

const wLine = d3.line().x(d => x(parse(d[0]))).y(d => yW(d[1])).curve(d3.curveMonotoneX);
svg.append('path').datum(weightTrend).attr('d', wLine)
  .attr('fill', 'none').attr('stroke', navy).attr('stroke-width', 3.2);
svg.append('path').datum(weightForecast).attr('d', wLine)
  .attr('fill', 'none').attr('stroke', navy).attr('stroke-width', 6)
  .attr('stroke-linecap', 'round').attr('stroke-dasharray', '0 9.6');

svg.append('g').selectAll('path').data(weights).enter().append('path')
  .attr('d', diamond)
  .attr('transform', d => `translate(${x(parse(d[0]))},${yW(d[1])})`)
  .attr('fill', navy);

axes(yW, weightTicks);
legend([
  { label: weightLegend[0], kind: 'line', color: green, width: 3.5 },
  { label: weightLegend[1], kind: 'point' }
], 60);

// ---------- energy chart ----------
const yE = d3.scaleLinear().domain([0, 3915]).range([2041, 1139]);
frame(yE, energyTicks, [3110, 3728, 1350]);

// value of the 1.0 kg/week line at any date, to close each impulse
const targetAt = d3.scaleLinear()
  .domain(lossTarget.map(d => +parse(d[0])))
  .range(lossTarget.map(d => d[1]));

const eLine = d3.line().x(d => x(parse(d[0]))).y(d => yE(d[1]));
svg.append('path').datum(maintenance).attr('d', eLine)
  .attr('fill', 'none').attr('stroke', '#000').attr('stroke-width', 1.8);

svg.append('g').selectAll('line').data(energy).enter().append('line')
  .attr('x1', d => x(parse(d[0]))).attr('x2', d => x(parse(d[0])))
  .attr('y1', d => yE(d[1])).attr('y2', d => yE(targetAt(+parse(d[0]))))
  .attr('stroke', navy).attr('stroke-width', 2);

svg.append('path').datum(lossTarget).attr('d', eLine)
  .attr('fill', 'none').attr('stroke', green).attr('stroke-width', 4.5).attr('stroke-linejoin', 'round');

svg.append('g').selectAll('path').data(energy).enter().append('path')
  .attr('d', diamond)
  .attr('transform', d => `translate(${x(parse(d[0]))},${yE(d[1])})`)
  .attr('fill', navy);

axes(yE, energyTicks);
legend([
  { label: energyLegend[0], kind: 'point' },
  { label: energyLegend[1], kind: 'line', color: '#000', width: 1.8 },
  { label: energyLegend[2], kind: 'line', color: green, width: 4.5 }
], 1139);
</script>
</body>
</html>
